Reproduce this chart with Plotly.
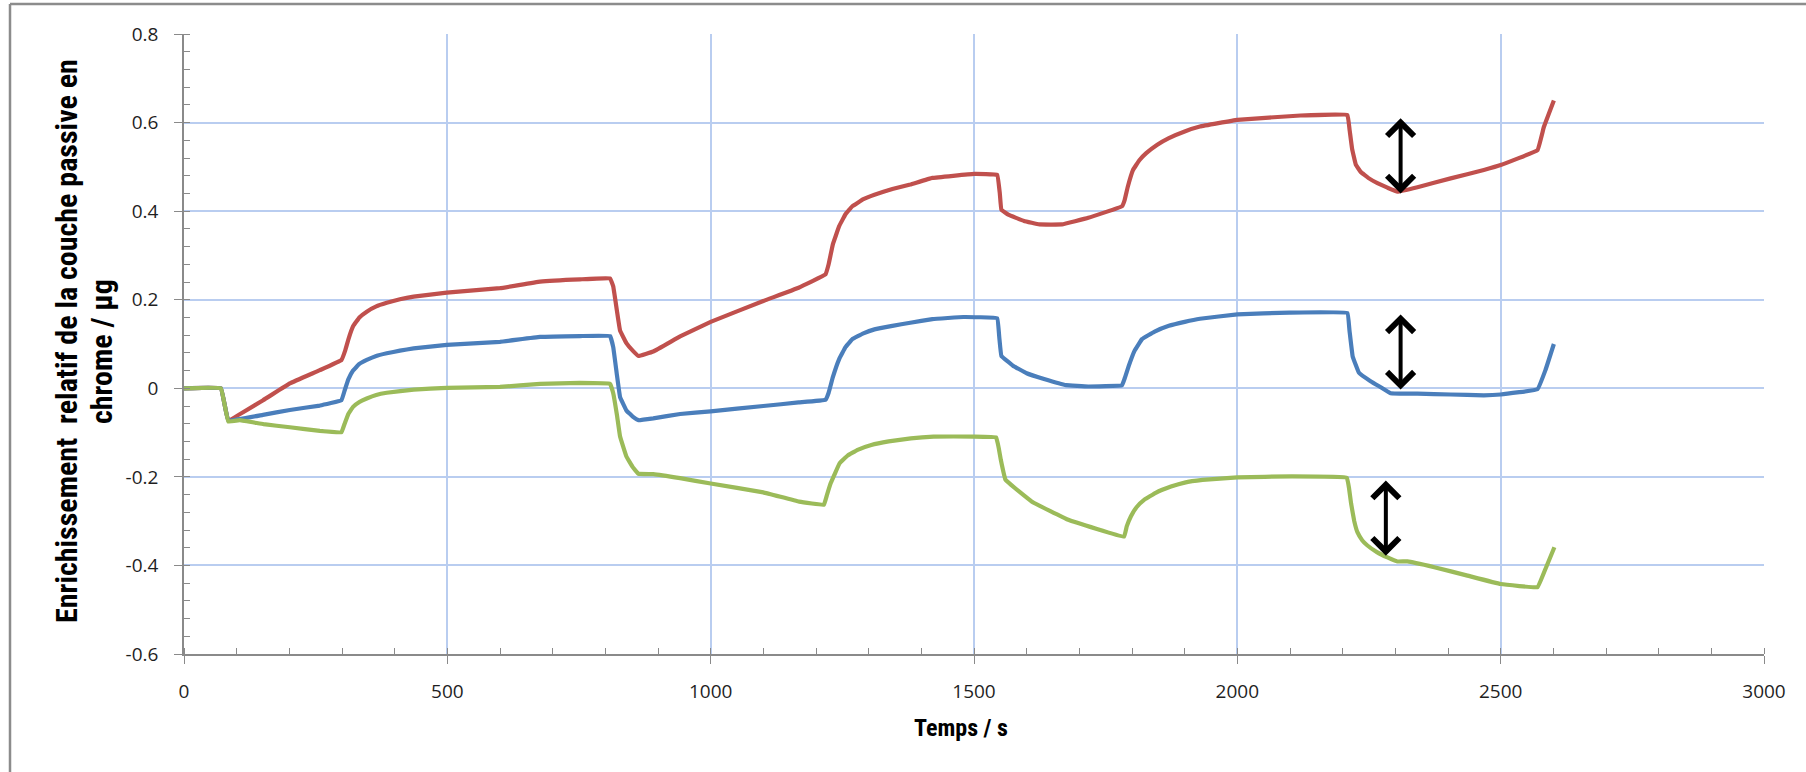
import plotly.graph_objects as go

# ---------------- data ----------------
red_t = [0, 70, 84, 150, 201, 258, 299, 306, 312, 321, 333, 347, 365, 385, 410, 436, 499, 600,
         676, 752, 809, 815, 822, 828, 840, 852, 863, 891, 942, 1000, 1100, 1167, 1218, 1224,
         1232, 1244, 1256, 1269, 1290, 1311, 1345, 1379, 1421, 1500, 1544, 1549, 1552, 1565,
         1595, 1624, 1667, 1717, 1781, 1786, 1792, 1802, 1814, 1827, 1848, 1870, 1900, 1929,
         2000, 2120, 2209, 2213, 2218, 2225, 2234, 2250, 2266, 2285, 2304, 2342, 2405, 2468,
         2500, 2570, 2582, 2601]
red_v = [0, 0, -0.072, -0.027, 0.011, 0.041, 0.064, 0.085, 0.110, 0.140, 0.160, 0.173, 0.185,
         0.193, 0.201, 0.207, 0.216, 0.226, 0.241, 0.246, 0.248, 0.230, 0.175, 0.130, 0.102,
         0.085, 0.073, 0.083, 0.117, 0.150, 0.197, 0.227, 0.257, 0.280, 0.325, 0.366, 0.393,
         0.411, 0.427, 0.437, 0.450, 0.460, 0.475, 0.484, 0.482, 0.440, 0.403, 0.392, 0.378,
         0.370, 0.370, 0.385, 0.411, 0.425, 0.455, 0.493, 0.515, 0.531, 0.550, 0.565, 0.580,
         0.591, 0.606, 0.616, 0.617, 0.585, 0.540, 0.505, 0.489, 0.474, 0.463, 0.453, 0.444,
         0.454, 0.474, 0.493, 0.504, 0.538, 0.590, 0.650]

blue_t = [0, 70, 84, 150, 201, 258, 299, 305, 312, 321, 333, 347, 365, 385, 410, 436, 499,
          600, 676, 752, 809, 815, 822, 828, 840, 852, 863, 891, 942, 1000, 1100, 1167, 1218,
          1224, 1232, 1244, 1256, 1269, 1290, 1311, 1345, 1379, 1421, 1480, 1544, 1548, 1552,
          1574, 1600, 1633, 1675, 1717, 1781, 1786, 1794, 1805, 1819, 1843, 1870, 1900, 1929,
          2000, 2099, 2209, 2213, 2219, 2231, 2253, 2270, 2291, 2342, 2405, 2468, 2500, 2570,
          2585, 2601]
blue_v = [0, 0, -0.072, -0.060, -0.049, -0.039, -0.027, -0.005, 0.020, 0.040, 0.055, 0.064,
          0.073, 0.079, 0.085, 0.090, 0.098, 0.105, 0.116, 0.118, 0.118, 0.093, 0.030, -0.020,
          -0.050, -0.064, -0.072, -0.068, -0.058, -0.052, -0.040, -0.032, -0.026, -0.010,
          0.025, 0.066, 0.093, 0.111, 0.124, 0.133, 0.141, 0.148, 0.156, 0.161, 0.158, 0.115,
          0.073, 0.051, 0.034, 0.021, 0.007, 0.004, 0.007, 0.022, 0.051, 0.085, 0.111, 0.128,
          0.141, 0.150, 0.157, 0.167, 0.171, 0.170, 0.130, 0.072, 0.035, 0.016, 0.004, -0.011,
          -0.012, -0.014, -0.016, -0.014, -0.002, 0.041, 0.100]

green_t = [0, 70, 84, 106, 151, 201, 258, 299, 305, 312, 321, 333, 347, 365, 385, 436, 499,
           600, 676, 752, 809, 815, 822, 828, 840, 852, 863, 891, 942, 1000, 1100, 1168, 1215,
           1221, 1228, 1245, 1260, 1279, 1305, 1338, 1380, 1423, 1500, 1542, 1547, 1551, 1560,
           1610, 1679, 1785, 1790, 1798, 1809, 1823, 1845, 1874, 1900, 1934, 2000, 2104, 2208,
           2212, 2216, 2222, 2228, 2237, 2247, 2265, 2285, 2304, 2323, 2374, 2437, 2500, 2570,
           2585, 2602]
green_v = [0, 0, -0.075, -0.072, -0.081, -0.088, -0.096, -0.099, -0.080, -0.058, -0.042,
           -0.031, -0.023, -0.015, -0.010, -0.003, 0.001, 0.003, 0.010, 0.012, 0.010, -0.011,
           -0.060, -0.109, -0.154, -0.178, -0.193, -0.194, -0.203, -0.215, -0.235, -0.256,
           -0.263, -0.240, -0.214, -0.169, -0.152, -0.139, -0.128, -0.120, -0.113, -0.109,
           -0.109, -0.111, -0.135, -0.162, -0.207, -0.256, -0.297, -0.335, -0.312, -0.289,
           -0.268, -0.252, -0.236, -0.222, -0.213, -0.207, -0.201, -0.199, -0.202, -0.225,
           -0.260, -0.300, -0.325, -0.343, -0.355, -0.370, -0.382, -0.391, -0.391, -0.404,
           -0.423, -0.442, -0.449, -0.408, -0.359]

# double arrows: x position, top value, bottom value
arrow_x = [2310, 2310, 2282]
arrow_top = [0.613, 0.170, -0.205]
arrow_bottom = [0.440, -0.003, -0.378]

x_tick_vals = [0, 500, 1000, 1500, 2000, 2500, 3000]
x_tick_text = ["0", "500", "1000", "1500", "2000", "2500", "3000"]
y_tick_vals = [0.8, 0.6, 0.4, 0.2, 0, -0.2, -0.4, -0.6]
y_tick_text = ["0.8", "0.6", "0.4", "0.2", "0", "-0.2", "-0.4", "-0.6"]

y_title_lines = ["Enrichissement  relatif de la couche passive en", "chrome / µg"]
x_title = "Temps / s"

# ---------------- figure ----------------
W, H = 1806, 772
L, R, T, B = 184, 42, 34, 118
pw, ph = W - L - R, H - T - B


def px_x(p):
    return (p - L) / pw


def px_y(p):
    return (H - B - p) / ph


fig = go.Figure()
for t, v, c in [(red_t, red_v, "#c0504d"), (blue_t, blue_v, "#4a7ebb"), (green_t, green_v, "#9bbb59")]:
    fig.add_trace(go.Scatter(x=t, y=v, mode="lines",
                             line=dict(color=c, width=4.2, shape="spline", smoothing=0.2),
                             showlegend=False, hoverinfo="skip"))

for ax_, top, bot in zip(arrow_x, arrow_top, arrow_bottom):
    fig.add_annotation(x=ax_, y=bot, ax=ax_, ay=top, xref="x", yref="y", axref="x", ayref="y",
                       text="", showarrow=True, arrowhead=4, startarrowhead=4,
                       arrowside="end+start", arrowwidth=4, arrowsize=1.3, startarrowsize=1.3,
                       arrowcolor="black")

tick_font = dict(family="Open Sans, DejaVu Sans, sans-serif", size=19, color="#1f1f1f")
title_family = "Liberation Sans Narrow, Roboto Condensed, Arial Narrow, sans-serif"

fig.update_xaxes(range=[0, 3000], tickvals=x_tick_vals, ticktext=x_tick_text,
                 showgrid=True, gridcolor="#b9cdf0", gridwidth=1.5, zeroline=False,
                 showline=True, linecolor="#8a8a8a", linewidth=1.5,
                 ticks="outside", ticklen=8, tickcolor="#8a8a8a", tickwidth=1.2,
                 minor=dict(ticks="inside", dtick=100, tick0=0, ticklen=6,
                            tickcolor="#8a8a8a", tickwidth=1.2, showgrid=False),
                 tickfont=tick_font, ticklabelstandoff=11)
fig.update_yaxes(range=[-0.6, 0.8], tickvals=y_tick_vals, ticktext=y_tick_text,
                 showgrid=True, gridcolor="#b9cdf0", gridwidth=1.5, zeroline=False,
                 showline=True, linecolor="#8a8a8a", linewidth=1.5,
                 ticks="outside", ticklen=8, tickcolor="#8a8a8a", tickwidth=1.2,
                 minor=dict(ticks="inside", dtick=0.04, tick0=-0.6, ticklen=6,
                            tickcolor="#8a8a8a", tickwidth=1.2, showgrid=False),
                 tickfont=tick_font, ticklabelstandoff=12)

# axis titles as annotations (positioned like the reference)
fig.add_annotation(text=x_title, xref="paper", yref="paper", x=px_x(961), y=px_y(728),
                   xanchor="center", yanchor="middle", showarrow=False,
                   font=dict(family=title_family, size=24, color="black", weight="bold"))
for line_text, cx, cy in zip(y_title_lines, [66, 101], [341, 352]):
    fig.add_annotation(text=line_text, xref="paper", yref="paper", x=px_x(cx), y=px_y(cy),
                       xanchor="center", yanchor="middle", showarrow=False, textangle=-90,
                       font=dict(family=title_family, size=30, color="black", weight="bold"))

# outer chart frame (left and top edges visible)
frame = "#8c8c8c"
fig.add_shape(type="line", xref="paper", yref="paper", x0=px_x(10), x1=px_x(10),
              y0=px_y(4), y1=px_y(H + 5), line=dict(color=frame, width=2.5))
fig.add_shape(type="line", xref="paper", yref="paper", x0=px_x(10), x1=px_x(W + 5),
              y0=px_y(4), y1=px_y(4), line=dict(color=frame, width=2.5))

fig.update_layout(width=W, height=H, margin=dict(l=L, r=R, t=T, b=B),
                  paper_bgcolor="white", plot_bgcolor="white", showlegend=False)

fig.write_html("out.html", config={"displayModeBar": False},
               post_script="document.body.style.margin='0px';")
